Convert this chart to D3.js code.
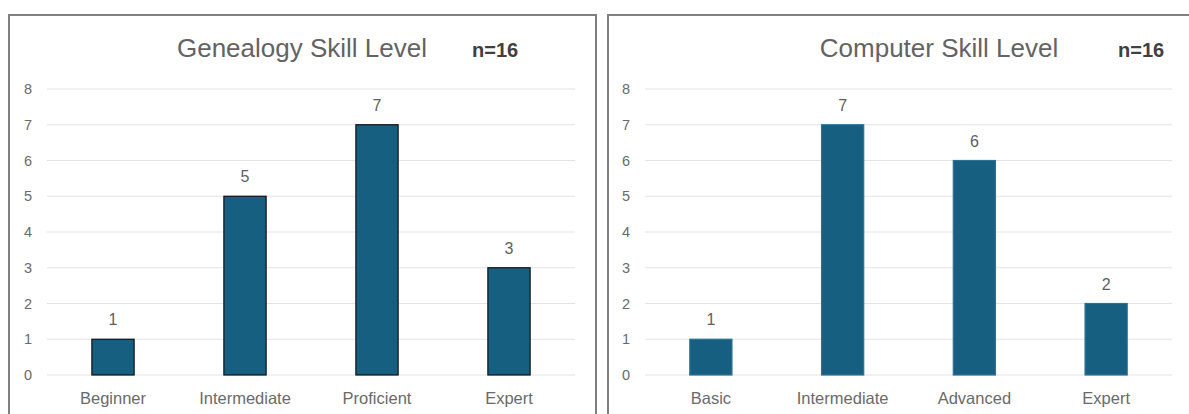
<!DOCTYPE html>
<html>
<head>
<meta charset="utf-8">
<script src="https://cdn.jsdelivr.net/npm/d3@7"></script>
<style>
  html, body { margin: 0; padding: 0; background: #ffffff; }
  svg { display: block; }
  text { font-family: "Liberation Sans", Arial, sans-serif; }
</style>
</head>
<body>
<svg id="chart" width="1189" height="414"></svg>
<script>
// ---- data ----
const genealogyCategories = ["Beginner", "Intermediate", "Proficient", "Expert"];
const genealogyValues = [1, 5, 7, 3];
const computerCategories = ["Basic", "Intermediate", "Advanced", "Expert"];
const computerValues = [1, 7, 6, 2];
const yTicks = [0, 1, 2, 3, 4, 5, 6, 7, 8];
const titles = ["Genealogy Skill Level", "Computer Skill Level"];
const sampleLabel = "n=16";

const svg = d3.select("#chart");
const barColor = "#175f80";

function panel(cfg) {
  const g = svg.append("g");
  // panel frame
  g.append("rect")
    .attr("x", cfg.frameX).attr("y", 15)
    .attr("width", cfg.frameW).attr("height", 420)
    .attr("fill", "#fff").attr("stroke", "#808080").attr("stroke-width", 2);

  const x = d3.scaleBand().domain(cfg.categories)
    .range([cfg.plotL, cfg.plotR]).paddingInner(0.68).paddingOuter(0.34);
  const y = d3.scaleLinear().domain([0, 8]).range([375, 89]);

  // gridlines
  g.append("g").selectAll("line").data(yTicks).join("line")
    .attr("x1", cfg.plotL).attr("x2", cfg.plotR)
    .attr("y1", d => y(d)).attr("y2", d => y(d))
    .attr("stroke", "#e3e3e3").attr("stroke-width", 1);

  // y axis labels
  const yAxis = d3.axisLeft(y).tickValues(yTicks).tickSize(0).tickPadding(0);
  const ya = g.append("g").attr("transform", `translate(${cfg.plotL - 15},0)`).call(yAxis);
  ya.select(".domain").remove();
  ya.selectAll("text").attr("fill", "#6a6a6a").style("font-size", "14.5px")
    .style("font-family", '"Liberation Sans", Arial, sans-serif');

  // x axis labels
  const xAxis = d3.axisBottom(x).tickSize(0).tickPadding(0);
  const xa = g.append("g").attr("transform", `translate(0,392)`).call(xAxis);
  xa.select(".domain").remove();
  xa.selectAll("text").attr("fill", "#6a6a6a").style("font-size", "16.5px")
    .style("font-family", '"Liberation Sans", Arial, sans-serif');

  // bars
  g.append("g").selectAll("rect").data(cfg.values).join("rect")
    .attr("x", (d, i) => x(cfg.categories[i]))
    .attr("y", d => y(d))
    .attr("width", x.bandwidth())
    .attr("height", d => y(0) - y(d))
    .attr("fill", barColor)
    .attr("stroke", cfg.barStroke).attr("stroke-width", 1.2);

  // value labels
  g.append("g").selectAll("text").data(cfg.values).join("text")
    .attr("x", (d, i) => x(cfg.categories[i]) + x.bandwidth() / 2)
    .attr("y", d => y(d) - 14)
    .attr("text-anchor", "middle")
    .attr("fill", "#606060").style("font-size", "16px")
    .text(d => d);

  // title
  g.append("text").attr("x", cfg.titleX).attr("y", 57)
    .attr("text-anchor", "middle").attr("fill", "#636363")
    .style("font-size", "26px").text(cfg.title);
  g.append("text").attr("x", cfg.nX).attr("y", 57)
    .attr("text-anchor", "start").attr("fill", "#404040")
    .style("font-size", "20px").style("font-weight", "bold").text(sampleLabel);
}

panel({ frameX: 9, frameW: 587, plotL: 47, plotR: 575,
        categories: genealogyCategories, values: genealogyValues,
        barStroke: "#111", title: titles[0], titleX: 302, nX: 472 });
panel({ frameX: 608, frameW: 600, plotL: 645, plotR: 1172,
        categories: computerCategories, values: computerValues,
        barStroke: "#2a7396", title: titles[1], titleX: 939, nX: 1118 });
</script>
</body>
</html>
